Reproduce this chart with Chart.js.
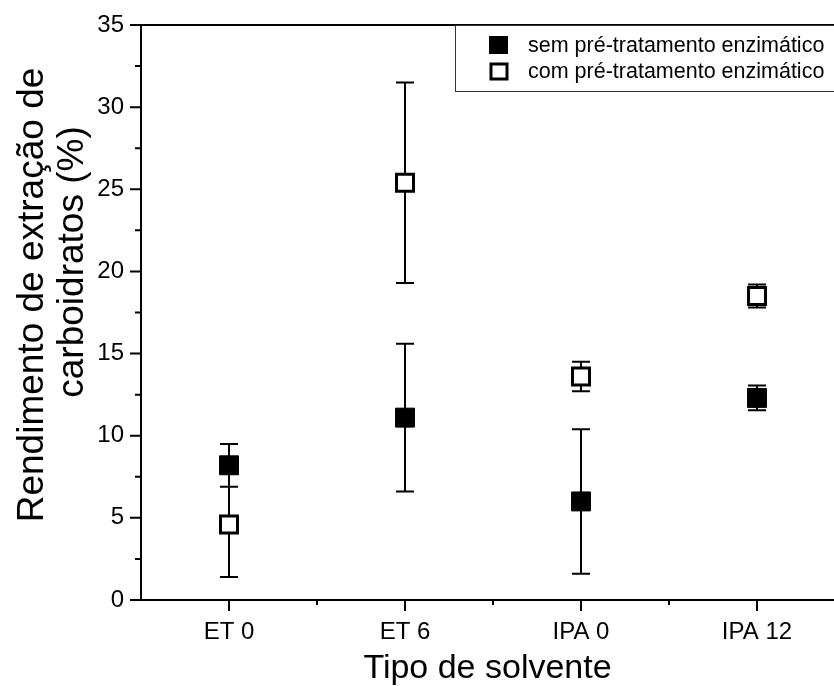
<!DOCTYPE html>
<html>
<head>
<meta charset="utf-8">
<script src="https://cdn.jsdelivr.net/npm/chart.js@4.4.1/dist/chart.umd.min.js"></script>
<style>
  html, body { margin: 0; padding: 0; background: #fff; overflow: hidden; }
  #wrap { width: 834px; height: 686px; position: relative; }
  canvas { display: block; }
</style>
</head>
<body>
<div id="wrap"><canvas id="chart"></canvas></div>
<script>
const solventes = ['ET 0', 'ET 6', 'IPA 0', 'IPA 12'];

// rendimento médio (%) e desvio
const semEnzima = [8.2, 11.1, 6.0, 12.3];
const semEnzimaErro = [1.3, 4.5, 4.4, 0.75];
const comEnzima = [4.6, 25.4, 13.6, 18.5];
const comEnzimaErro = [3.2, 6.1, 0.9, 0.7];

const yMajorTicks = [0, 5, 10, 15, 20, 25, 30, 35];

const legendLabels = ['sem pré-tratamento enzimático', 'com pré-tratamento enzimático'];
const yTitle = ['Rendimento de extração de', 'carboidratos (%)'];

const FONT = '"Liberation Sans", Arial, sans-serif';

function toPoints(values) {
  return values.map((v, i) => ({ x: i, y: v }));
}

// sem folga extra dos rótulos: a área do gráfico fica fixa
function noPadding(s) {
  s.paddingLeft = 0; s.paddingRight = 0;
  s.paddingTop = 0; s.paddingBottom = 0;
}

// barras de erro desenhadas antes dos marcadores
const errorBars = {
  id: 'errorBars',
  beforeDatasetsDraw(chart) {
    const { ctx, scales: { x, y } } = chart;
    ctx.save();
    ctx.strokeStyle = '#000';
    ctx.lineWidth = 2;
    chart.data.datasets.forEach(ds => {
      ds.data.forEach((p, i) => {
        const e = ds.errors[i];
        const px = x.getPixelForValue(p.x);
        const top = y.getPixelForValue(p.y + e);
        const bot = y.getPixelForValue(p.y - e);
        ctx.beginPath();
        ctx.moveTo(px, top); ctx.lineTo(px, bot);
        ctx.moveTo(px - 9, top); ctx.lineTo(px + 9, top);
        ctx.moveTo(px - 9, bot); ctx.lineTo(px + 9, bot);
        ctx.stroke();
      });
    });
    ctx.restore();
  }
};

// eixos, marcas, moldura, título do eixo y e legenda
const frame = {
  id: 'frame',
  afterDraw(chart) {
    const { ctx, chartArea: a, scales: { x, y } } = chart;
    ctx.save();
    ctx.strokeStyle = '#000';
    ctx.lineWidth = 2;
    ctx.beginPath();
    ctx.moveTo(a.left, a.top); ctx.lineTo(a.right, a.top);
    ctx.moveTo(a.left, a.top); ctx.lineTo(a.left, a.bottom);
    ctx.moveTo(a.left - 11, a.bottom); ctx.lineTo(a.right, a.bottom);
    for (let v = 0; v <= 35; v += 2.5) {
      const py = y.getPixelForValue(v);
      const len = v % 5 === 0 ? 11 : 6;
      ctx.moveTo(a.left - len, py); ctx.lineTo(a.left, py);
    }
    for (let v = 0; v <= 3; v += 0.5) {
      const px = x.getPixelForValue(v);
      const len = v % 1 === 0 ? 11 : 5;
      ctx.moveTo(px, a.bottom); ctx.lineTo(px, a.bottom + len);
    }
    ctx.stroke();

    // título do eixo y, em duas linhas
    ctx.fillStyle = '#000';
    ctx.font = '37px ' + FONT;
    ctx.textAlign = 'center';
    ctx.textBaseline = 'alphabetic';
    [[43, 295], [83, 262]].forEach(([tx, ty], i) => {
      ctx.save();
      ctx.translate(tx, ty);
      ctx.rotate(-Math.PI / 2);
      ctx.fillText(yTitle[i], 0, 0);
      ctx.restore();
    });

    // legenda
    ctx.lineWidth = 1;
    ctx.strokeStyle = '#333';
    ctx.fillStyle = '#fff';
    ctx.fillRect(455, 26, 400, 65);
    ctx.strokeRect(455.5, 25.5, 400, 66);
    ctx.fillStyle = '#000';
    ctx.fillRect(489, 36, 19, 18);
    ctx.lineWidth = 3;
    ctx.strokeStyle = '#000';
    ctx.strokeRect(491, 64, 16, 15);
    ctx.font = '21.5px ' + FONT;
    ctx.textAlign = 'left';
    ctx.textBaseline = 'middle';
    ctx.fillText(legendLabels[0], 528, 46);
    ctx.fillText(legendLabels[1], 528, 72);
    ctx.restore();
  }
};

new Chart(document.getElementById('chart'), {
  type: 'scatter',
  data: {
    datasets: [
      {
        label: legendLabels[0],
        data: toPoints(semEnzima),
        errors: semEnzimaErro,
        pointStyle: 'rect',
        pointRadius: 13.4,
        pointHoverRadius: 13.4,
        backgroundColor: '#000',
        borderColor: '#000',
        borderWidth: 1
      },
      {
        label: legendLabels[1],
        data: toPoints(comEnzima),
        errors: comEnzimaErro,
        pointStyle: 'rect',
        pointRadius: 12,
        pointHoverRadius: 12,
        backgroundColor: '#fff',
        borderColor: '#000',
        borderWidth: 3
      }
    ]
  },
  options: {
    responsive: true,
    maintainAspectRatio: false,
    animation: false,
    events: [],
    layout: { autoPadding: false, padding: { top: 25, right: 0, left: 0, bottom: 0 } },
    plugins: {
      legend: { display: false },
      tooltip: { enabled: false }
    },
    scales: {
      x: {
        type: 'linear',
        min: -0.5,
        max: 3.4375,
        afterFit: s => { s.height = 86; noPadding(s); },
        afterBuildTicks: s => { s.ticks = solventes.map((c, i) => ({ value: i })); },
        grid: { display: false, drawTicks: false },
        border: { display: false },
        ticks: {
          padding: 18,
          color: '#000',
          font: { family: FONT, size: 24 },
          callback: v => solventes[v]
        },
        title: {
          display: true,
          text: 'Tipo de solvente',
          color: '#000',
          font: { family: FONT, size: 34, lineHeight: 1.05 },
          padding: { top: 0, bottom: 0 }
        }
      },
      y: {
        min: 0,
        max: 35,
        afterFit: s => { s.width = 141; noPadding(s); },
        afterBuildTicks: s => { s.ticks = yMajorTicks.map(v => ({ value: v })); },
        grid: { display: false, drawTicks: false },
        border: { display: false },
        ticks: {
          padding: 17,
          color: '#000',
          font: { family: FONT, size: 24 }
        }
      }
    }
  },
  plugins: [errorBars, frame]
});
</script>
</body>
</html>
